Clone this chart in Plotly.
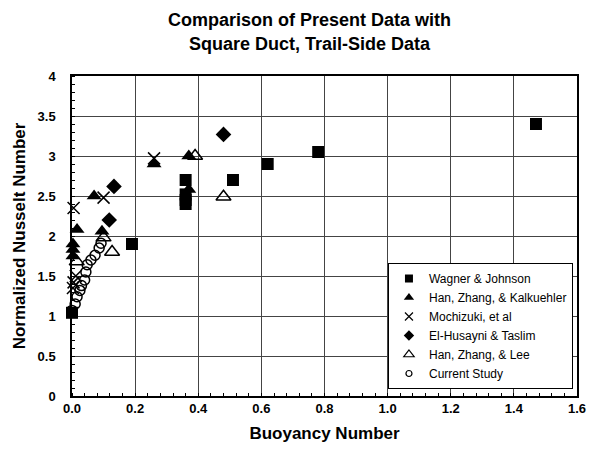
import plotly.graph_objects as go

# Wagner & Johnson
wj_x = [0.0, 0.19, 0.36, 0.36, 0.36, 0.36, 0.51, 0.62, 0.78, 1.47]
wj_y = [1.04, 1.9, 2.7, 2.52, 2.45, 2.4, 2.7, 2.9, 3.05, 3.4]

# Han, Zhang, & Kalkuehler
hzk_x = [0.003, 0.003, 0.003, 0.016, 0.07, 0.095, 0.26, 0.37, 0.37]
hzk_y = [1.75, 1.83, 1.9, 2.08, 2.5, 2.06, 2.9, 2.58, 3.0]

# Mochizuki, et al
moc_x = [0.005, 0.1, 0.26, 0.005, 0.012, 0.003]
moc_y = [2.35, 2.48, 2.97, 1.42, 1.5, 1.35]

# El-Husayni & Taslim
eht_x = [0.118, 0.133, 0.48]
eht_y = [2.2, 2.62, 3.27]

# Han, Zhang, & Lee
hzl_x = [0.015, 0.1, 0.127, 0.39, 0.48]
hzl_y = [1.68, 1.98, 1.8, 3.0, 2.49]

# Current Study
cs_x = [0.0, 0.01, 0.016, 0.025, 0.03, 0.04, 0.044, 0.048, 0.06, 0.073, 0.086, 0.092]
cs_y = [1.07, 1.15, 1.24, 1.32, 1.38, 1.45, 1.55, 1.64, 1.7, 1.76, 1.85, 1.91]

x_ticks = [0.0, 0.2, 0.4, 0.6, 0.8, 1.0, 1.2, 1.4, 1.6]
y_ticks = [0, 0.5, 1, 1.5, 2, 2.5, 3, 3.5, 4]

series_names = ["Wagner & Johnson", "Han, Zhang, & Kalkuehler", "Mochizuki, et al",
                "El-Husayni & Taslim", "Han, Zhang, & Lee", "Current Study"]

FONT = "Liberation Sans, Arial, sans-serif"


def marker_style(kind, size):
    if kind == "square":
        return dict(symbol="square", size=size, color="black")
    if kind == "tri":
        return dict(symbol="triangle-up", size=size + 1, color="black")
    if kind == "x":
        return dict(symbol="x-thin-open", size=size, color="black",
                    line=dict(color="black", width=1.5))
    if kind == "diamond":
        return dict(symbol="diamond", size=size, color="black")
    if kind == "tri-open":
        return dict(symbol="triangle-up-open", size=size + 1, color="black",
                    line=dict(color="black", width=1.5))
    return dict(symbol="circle-open", size=size - 2, color="black",
                line=dict(color="black", width=1.5))


kinds = ["square", "tri", "x", "diamond", "tri-open", "circle"]
data = [(wj_x, wj_y), (hzk_x, hzk_y), (moc_x, moc_y),
        (eht_x, eht_y), (hzl_x, hzl_y), (cs_x, cs_y)]

fig = go.Figure()
# plotted markers
for name, kind, (xs, ys) in zip(series_names, kinds, data):
    fig.add_trace(go.Scatter(x=xs, y=ys, mode="markers", name=name,
                             marker=marker_style(kind, 12), cliponaxis=False,
                             showlegend=False, legendgroup=name))
# small legend keys
for name, kind in zip(series_names, kinds):
    mk = marker_style(kind, 8)
    if "line" in mk:
        mk["line"]["width"] = 1.2
    fig.add_trace(go.Scatter(x=[None], y=[None], mode="markers", name=name,
                             marker=mk, legendgroup=name, showlegend=True))

axis_common = dict(
    showline=True, linecolor="black", linewidth=1.5, mirror=True,
    showgrid=True, gridcolor="#444444", gridwidth=1,
    zeroline=False, ticks="", color="black", automargin=False,
    tickfont=dict(family=FONT, size=13, color="black", weight="bold"),
)

fig.update_layout(
    width=589, height=451,
    paper_bgcolor="white", plot_bgcolor="white",
    margin=dict(l=72, r=12, t=76, b=55),
    annotations=[
        dict(text="Comparison of Present Data with", xref="paper", yref="paper",
             x=0.471, y=(396 - 20) / 320, xanchor="center", yanchor="middle",
             showarrow=False,
             font=dict(family=FONT, size=18, color="black", weight="bold")),
        dict(text="Square Duct, Trail-Side Data", xref="paper", yref="paper",
             x=0.471, y=(396 - 44) / 320, xanchor="center", yanchor="middle",
             showarrow=False,
             font=dict(family=FONT, size=18, color="black", weight="bold")),
    ],
    xaxis=dict(
        range=[0, 1.6], tickvals=x_ticks, tickformat=".1f",
        title=dict(text="Buoyancy Number", standoff=12,
                   font=dict(family=FONT, size=17, color="black", weight="bold")),
        minor=dict(ticks="inside", dtick=0.04, ticklen=3, tickcolor="black", showgrid=False),
        **axis_common,
    ),
    yaxis=dict(
        range=[0, 4], tickvals=y_ticks, ticklabelstandoff=12,
        title=dict(text="Normalized Nusselt Number", standoff=8,
                   font=dict(family=FONT, size=17, color="black", weight="bold")),
        minor=dict(ticks="inside", dtick=0.1, ticklen=3, tickcolor="black", showgrid=False),
        **axis_common,
    ),
    legend=dict(
        x=0.992, y=0.4156, xanchor="right", yanchor="top",
        bgcolor="white", bordercolor="black", borderwidth=1,
        font=dict(family=FONT, size=12, color="black"),
        itemsizing="trace", itemwidth=30, tracegroupgap=0,
    ),
    showlegend=True,
)

fig.write_html("out.html")
